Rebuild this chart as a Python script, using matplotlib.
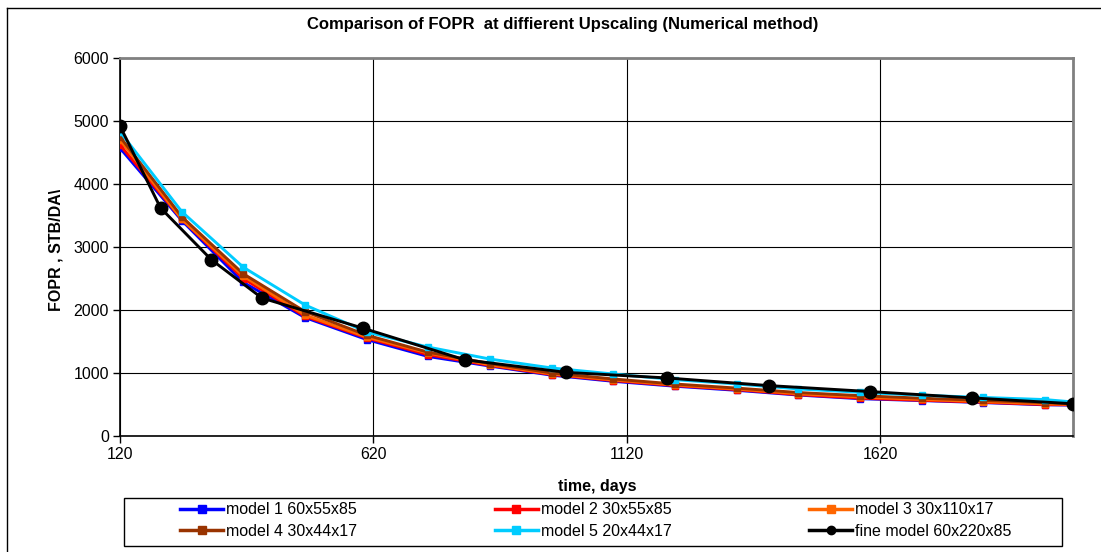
import numpy as np
import matplotlib
matplotlib.use("Agg")
from matplotlib import pyplot as plt
from matplotlib.lines import Line2D
from matplotlib.patches import Rectangle

plt.rcParams['font.family'] = ['Liberation Sans', 'DejaVu Sans']

# report times (days) of the coarse models and of the fine model
t_models = [120, 242, 363, 485, 607, 728, 850, 972, 1093, 1215, 1337, 1458, 1580, 1702, 1823, 1945, 2000]
t_fine = [120, 200, 300, 400, 600, 800, 1000, 1200, 1400, 1600, 1800, 2000]

# FOPR, STB/DAY
model1 = [4570, 3420, 2440, 1880, 1530, 1262, 1110, 965, 868, 790, 725, 650, 592, 562, 530, 495, 490]
model2 = [4620, 3440, 2500, 1900, 1555, 1290, 1120, 975, 880, 800, 736, 657, 600, 567, 536, 499, 495]
model3 = [4700, 3440, 2540, 1920, 1570, 1316, 1131, 985, 890, 810, 745, 670, 620, 580, 545, 510, 500]
model4 = [4750, 3480, 2576, 1975, 1600, 1330, 1150, 1000, 905, 825, 760, 690, 640, 600, 565, 530, 510]
model5 = [4830, 3560, 2680, 2080, 1650, 1411, 1221, 1079, 984, 894, 826, 747, 694, 646, 612, 578, 540]
fine = [4920, 3620, 2800, 2190, 1710, 1210, 1010, 921, 800, 705, 605, 512]

labels = ["model 1 60x55x85", "model 2 30x55x85", "model 3 30x110x17",
          "model 4 30x44x17", "model 5 20x44x17", "fine model 60x220x85"]
colors = ["#0000FF", "#FF0000", "#FF6600", "#993300", "#00CCFF", "#000000"]

W, H = 1101, 552
fig = plt.figure(figsize=(W/100, H/100), dpi=100)
ax = fig.add_axes([120/W, 1-436/H, (1073-120)/W, (436-58)/H])

for y, c in zip([model1, model2, model3, model4, model5], colors[:5]):
    ax.plot(t_models, y, color=c, lw=2.1, marker='s', ms=5, mec=c, zorder=3)
ax.plot(t_fine, fine, color='black', lw=2.1, marker='o', ms=9, zorder=4)

ax.set_xlim(120, 2000)
ax.set_ylim(0, 6000)
ax.set_xticks([120, 620, 1120, 1620])
ax.set_yticks(range(0, 6001, 1000))
ax.grid(True, color='black', lw=0.8)
ax.set_axisbelow(True)
ax.tick_params(labelsize=11.5, direction='out', length=5, width=1, pad=3)
for s in ['top', 'right']:
    ax.spines[s].set_color('#808080')
    ax.spines[s].set_linewidth(2)
for s in ['left', 'bottom']:
    ax.spines[s].set_color('black')
    ax.spines[s].set_linewidth(1.2)

fig.text(597/W, 1-487/H, "time, days", ha='center', va='center', fontsize=11.5, fontweight='bold')
fig.text(56/W, 1-250/H, "FOPR , STB/DA\\", ha='center', va='center', rotation=90,
         fontsize=11.5, fontweight='bold')
fig.text(563/W, 1-25/H, "Comparison of FOPR  at diffierent Upscaling (Numerical method)",
         ha='center', va='center', fontsize=12, fontweight='bold')

# legend, filled row by row like the original
handles = [Line2D([], [], color=c, lw=2.5, marker='s' if i < 5 else 'o', ms=6, mec=c)
           for i, c in enumerate(colors)]
order = [0, 3, 1, 4, 2, 5]
leg = fig.legend([handles[i] for i in order], [labels[i] for i in order], ncol=3,
                 loc='center left', bbox_to_anchor=(180/W, 1-520.5/H),
                 fontsize=11.5, frameon=False, borderpad=0, borderaxespad=0,
                 handlelength=2.7, handletextpad=0.2, columnspacing=8.6,
                 labelspacing=0.4)
fig.add_artist(Rectangle((124/W, 1-546/H), (1062-124)/W, 48/H, transform=fig.transFigure,
                         fill=False, edgecolor='black', lw=1))

# outer chart border
fig.add_artist(Line2D([7/W, 7/W], [0, 1-8/H], transform=fig.transFigure, color='black', lw=1))
fig.add_artist(Line2D([7/W, 1], [1-8/H, 1-8/H], transform=fig.transFigure, color='black', lw=1))

fig.savefig("out.png", dpi=100)
